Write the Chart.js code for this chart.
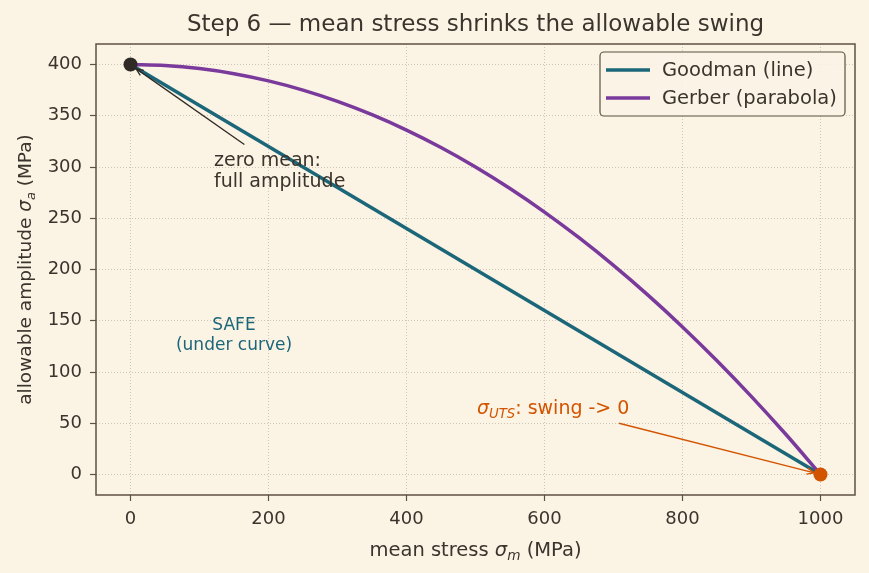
<!DOCTYPE html>
<html>
<head>
<meta charset="utf-8">
<script src="https://cdn.jsdelivr.net/npm/chart.js@4.4.1/dist/chart.umd.min.js"></script>
<style>
  html, body { margin: 0; padding: 0; background: #fbf3e4; }
  #wrap { width: 869px; height: 573px; }
</style>
</head>
<body>
<div id="wrap"><canvas id="grafico" width="869" height="573"></canvas></div>
<script>
// --- datos ---
const goodmanX = [0, 1000];
const goodmanY = [400, 0];

const gerberX = [0, 50, 100, 150, 200, 250, 300, 350, 400, 450, 500, 550, 600, 650, 700, 750, 800, 850, 900, 950, 1000];
const gerberY = [400, 399, 396, 391, 384, 375, 364, 351, 336, 319, 300, 279, 256, 231, 204, 175, 144, 111, 76, 39, 0];

const xTicks = [0, 200, 400, 600, 800, 1000];
const yTicks = [0, 50, 100, 150, 200, 250, 300, 350, 400];

const puntoCero = { x: 0, y: 400 };
const puntoUTS = { x: 1000, y: 0 };

const TITULO = 'Step 6 \u2014 mean stress shrinks the allowable swing';
const FUENTE = '"DejaVu Sans", sans-serif';
const TXT = '#3b342c';
const MARCO = '#5d5142';
const TEAL = '#1b6779';
const MORADO = '#7a3a9c';
const NARANJA = '#d35400';

const aPuntos = (xs, ys) => xs.map((x, i) => ({ x: x, y: ys[i] }));

// texto con subíndices / cursiva
function textoRico(ctx, partes, x, y, size, color, align) {
  let ancho = 0;
  partes.forEach(p => {
    const s = p.sub ? size * 0.7 : size;
    ctx.font = (p.it ? 'italic ' : '') + s + 'px ' + FUENTE;
    p.w = ctx.measureText(p.t).width;
    ancho += p.w;
  });
  let cx = align === 'center' ? x - ancho / 2 : x;
  ctx.fillStyle = color;
  ctx.textBaseline = 'alphabetic';
  ctx.textAlign = 'left';
  partes.forEach(p => {
    const s = p.sub ? size * 0.7 : size;
    ctx.font = (p.it ? 'italic ' : '') + s + 'px ' + FUENTE;
    ctx.fillText(p.t, cx, p.sub ? y + size * 0.22 : y);
    cx += p.w;
  });
}

function flecha(ctx, x1, y1, x2, y2, color, ancho) {
  ctx.save();
  ctx.strokeStyle = color;
  ctx.lineWidth = ancho;
  ctx.beginPath();
  ctx.moveTo(x1, y1);
  ctx.lineTo(x2, y2);
  ctx.stroke();
  const ang = Math.atan2(y2 - y1, x2 - x1);
  const L = 8;
  ctx.beginPath();
  ctx.moveTo(x2 - L * Math.cos(ang - 0.4), y2 - L * Math.sin(ang - 0.4));
  ctx.lineTo(x2, y2);
  ctx.lineTo(x2 - L * Math.cos(ang + 0.4), y2 - L * Math.sin(ang + 0.4));
  ctx.stroke();
  ctx.restore();
}

const decoracion = {
  id: 'decoracion',
  beforeDraw(chart) {
    const ctx = chart.ctx;
    ctx.save();
    ctx.fillStyle = '#fbf3e4';
    ctx.fillRect(0, 0, chart.width, chart.height);
    ctx.restore();
  },
  afterDatasetsDraw(chart) {
    const ctx = chart.ctx;
    const sx = chart.scales.x, sy = chart.scales.y;
    const a = chart.chartArea;
    ctx.save();

    // flechas
    flecha(ctx, sx.getPixelForValue(165), sy.getPixelForValue(322),
      sx.getPixelForValue(8), sy.getPixelForValue(396), '#2f2a25', 1.3);
    flecha(ctx, sx.getPixelForValue(708), sy.getPixelForValue(50),
      sx.getPixelForValue(991), sy.getPixelForValue(1.5), NARANJA, 1.3);

    // anotaciones
    ctx.font = '19px ' + FUENTE;
    ctx.fillStyle = TXT;
    ctx.textAlign = 'left';
    ctx.textBaseline = 'middle';
    ctx.fillText('zero mean:', sx.getPixelForValue(121), sy.getPixelForValue(306));
    ctx.fillText('full amplitude', sx.getPixelForValue(121), sy.getPixelForValue(285));

    ctx.font = '17px ' + FUENTE;
    ctx.fillStyle = TEAL;
    ctx.textAlign = 'center';
    ctx.fillText('SAFE', sx.getPixelForValue(150), sy.getPixelForValue(145));
    ctx.fillText('(under curve)', sx.getPixelForValue(150), sy.getPixelForValue(126));

    textoRico(ctx, [
      { t: '\u03c3', it: true },
      { t: 'UTS', it: true, sub: true },
      { t: ': swing -> 0' }
    ], sx.getPixelForValue(502), sy.getPixelForValue(59), 19, NARANJA, 'left');

    // marco
    ctx.strokeStyle = MARCO;
    ctx.lineWidth = 1.5;
    ctx.strokeRect(a.left, a.top, a.right - a.left, a.bottom - a.top);

    // leyenda
    const lx = 600, ly = 52, lw = 245, lh = 64, r = 4;
    ctx.beginPath();
    ctx.moveTo(lx + r, ly);
    ctx.arcTo(lx + lw, ly, lx + lw, ly + lh, r);
    ctx.arcTo(lx + lw, ly + lh, lx, ly + lh, r);
    ctx.arcTo(lx, ly + lh, lx, ly, r);
    ctx.arcTo(lx, ly, lx + lw, ly, r);
    ctx.closePath();
    ctx.fillStyle = 'rgba(251,243,228,0.9)';
    ctx.fill();
    ctx.lineWidth = 1.2;
    ctx.strokeStyle = MARCO;
    ctx.stroke();

    const entradas = [['Goodman (line)', TEAL, 70], ['Gerber (parabola)', MORADO, 98]];
    ctx.font = '19.5px ' + FUENTE;
    ctx.textAlign = 'left';
    ctx.textBaseline = 'middle';
    entradas.forEach(e => {
      ctx.strokeStyle = e[1];
      ctx.lineWidth = 3.5;
      ctx.beginPath();
      ctx.moveTo(606, e[2]);
      ctx.lineTo(650, e[2]);
      ctx.stroke();
      ctx.fillStyle = TXT;
      ctx.fillText(e[0], 662, e[2] + 1);
    });

    // título y ejes
    ctx.font = '23px ' + FUENTE;
    ctx.fillStyle = TXT;
    ctx.textAlign = 'center';
    ctx.fillText(TITULO, (a.left + a.right) / 2, 25);

    textoRico(ctx, [
      { t: 'mean stress ' },
      { t: '\u03c3', it: true },
      { t: 'm', it: true, sub: true },
      { t: ' (MPa)' }
    ], (a.left + a.right) / 2, 556, 19.5, TXT, 'center');

    ctx.translate(31, (a.top + a.bottom) / 2);
    ctx.rotate(-Math.PI / 2);
    textoRico(ctx, [
      { t: 'allowable amplitude ' },
      { t: '\u03c3', it: true },
      { t: 'a', it: true, sub: true },
      { t: ' (MPa)' }
    ], 0, 0, 18.5, TXT, 'center');
    ctx.restore();
  }
};

const ctx = document.getElementById('grafico').getContext('2d');
new Chart(ctx, {
  type: 'scatter',
  data: {
    datasets: [
      {
        label: 'Goodman (line)',
        data: aPuntos(goodmanX, goodmanY),
        showLine: true,
        borderColor: TEAL,
        borderWidth: 3.5,
        pointRadius: 0,
        order: 2
      },
      {
        label: 'Gerber (parabola)',
        data: aPuntos(gerberX, gerberY),
        showLine: true,
        borderColor: MORADO,
        borderWidth: 3.5,
        pointRadius: 0,
        cubicInterpolationMode: 'monotone',
        order: 1
      },
      {
        data: [puntoCero],
        pointRadius: 7,
        pointBackgroundColor: '#2f2a25',
        pointBorderWidth: 0,
        order: 0
      },
      {
        data: [puntoUTS],
        pointRadius: 7,
        pointBackgroundColor: NARANJA,
        pointBorderWidth: 0,
        order: 0
      }
    ]
  },
  options: {
    responsive: false,
    animation: false,
    layout: { padding: { left: 0, right: 14, top: 44, bottom: 0 } },
    plugins: { legend: { display: false }, tooltip: { enabled: false } },
    scales: {
      x: {
        type: 'linear',
        min: -50,
        max: 1050,
        afterFit: s => { s.height = 78; },
        afterBuildTicks: s => { s.ticks = xTicks.map(v => ({ value: v })); },
        ticks: { color: TXT, font: { family: 'DejaVu Sans', size: 18 }, padding: 8, maxRotation: 0, callback: v => String(v) },
        grid: { color: '#c2b9a8', lineWidth: 0.8, tickColor: MARCO, tickLength: 6, tickWidth: 1.2 },
        border: { display: false, dash: [1, 2] }
      },
      y: {
        type: 'linear',
        min: -20,
        max: 420,
        afterFit: s => { s.width = 96; },
        afterBuildTicks: s => { s.ticks = yTicks.map(v => ({ value: v })); },
        ticks: { color: TXT, font: { family: 'DejaVu Sans', size: 18 }, padding: 8, callback: v => String(v) },
        grid: { color: '#c2b9a8', lineWidth: 0.8, tickColor: MARCO, tickLength: 6, tickWidth: 1.2 },
        border: { display: false, dash: [1, 2] }
      }
    }
  },
  plugins: [decoracion]
});
</script>
</body>
</html>
